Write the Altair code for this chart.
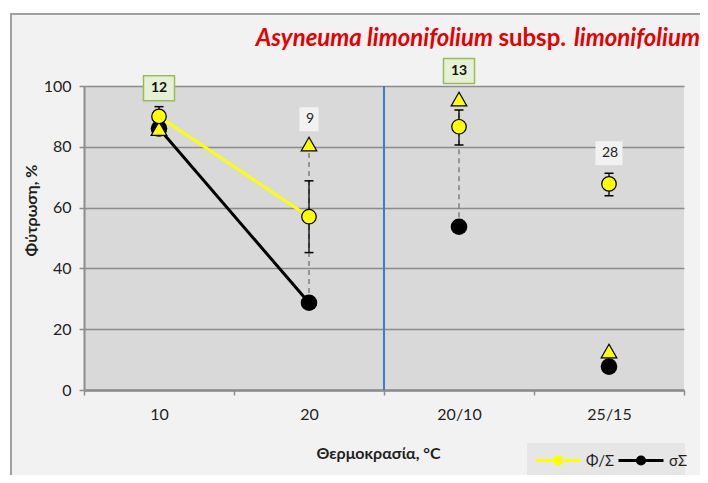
import json
import altair as alt
import pandas as pd

# ---------------- data ----------------
categories = ["10", "20", "20/10", "25/15"]
constant_regime = [True, True, False, False]
phi_mean = [90.0, 57.0, 86.6, 67.8]        # Φ/Σ (yellow circles)
phi_err_lo = [87.0, 45.2, 80.6, 63.9]
phi_err_hi = [93.2, 68.8, 92.1, 71.3]
triangle_vals = [86.0, 80.9, 95.7, 12.8]   # yellow triangles
sigma_vals = [86.0, 28.7, 53.7, 7.7]       # σΣ (black circles)
dash_top = [None, 78.0, 91.0, None]
dash_bottom = [None, 31.0, 56.5, None]
n_labels = [12, 9, 13, 28]
label_y = [99.3, 89.1, 104.9, 77.9]
label_highlight = [True, False, True, False]

series_names = ["Φ/Σ", "σΣ"]
series_colors = ["#ffff00", "#000000"]

FONT = "Lato"
TXT = "#1f1f1f"
GRID = "#8c8c8c"

df = pd.DataFrame({
    "cat": categories,
    "xpos": [i + 0.5 for i in range(len(categories))],
    "constant": constant_regime,
    "phi": phi_mean,
    "lo": phi_err_lo,
    "hi": phi_err_hi,
    "tri": triangle_vals,
    "sigma": sigma_vals,
    "dtop": dash_top,
    "dbot": dash_bottom,
    "n": n_labels,
    "ly": label_y,
    "hl": label_highlight,
})

ncat = len(categories)
cat_js = json.dumps(categories)

x_scale = alt.Scale(domain=[0, ncat], nice=False, zero=False)
y_scale = alt.Scale(domain=[0, 100], nice=False)

x_axis = alt.Axis(
    values=[i * 0.5 for i in range(2 * ncat + 1)],
    labelExpr=f"datum.value % 1 == 0.5 ? {cat_js}[floor(datum.value)] : ''",
    tickOpacity={"condition": {"test": "datum.value % 1 == 0", "value": 1}, "value": 0},
    grid=False,
    labelFlush=False,
    labelOverlap=False,
    tickSize=5,
    tickWidth=1.5,
    tickColor=GRID,
    domainColor=GRID,
    domainWidth=2.5,
    labelPadding=11,
    labelFontSize=16,
    labelFont=FONT,
    labelColor=TXT,
    title="Θερμοκρασία, °C",
    titleFont=FONT,
    titleFontSize=16,
    titleFontWeight="bold",
    titleColor=TXT,
    titleX=294,
    titleY=63,
    titleBaseline="middle",
    titleAlign="center",
)

y_axis = alt.Axis(
    values=[0, 20, 40, 60, 80, 100],
    grid=True,
    gridColor=GRID,
    gridWidth=1.5,
    tickSize=5,
    tickWidth=1.5,
    tickColor=GRID,
    domainColor=GRID,
    domainWidth=2,
    labelPadding=8,
    labelFontSize=16,
    labelFont=FONT,
    labelColor=TXT,
    title="Φύτρωση, %",
    titleFont=FONT,
    titleFontSize=16,
    titleFontWeight="bold",
    titleColor=TXT,
    titleX=-53,
    titleY=124,
    titleAngle=-90,
    titleAlign="center",
    titleBaseline="middle",
)


def X():
    return alt.X("xpos:Q", scale=x_scale, axis=x_axis)


def Y(field):
    return alt.Y(f"{field}:Q", scale=y_scale, axis=y_axis)


base = alt.Chart(df)
one = alt.Chart(pd.DataFrame({"k": [0]}))

# ---------- decorative frame ----------
frame_white_left = one.mark_rect(color="white").encode(
    x=alt.value(-76), x2=alt.value(-74), y=alt.value(-78), y2=alt.value(389))
frame_white_top = one.mark_rect(color="white").encode(
    x=alt.value(-76), x2=alt.value(616), y=alt.value(-78), y2=alt.value(-73))
frame_left = one.mark_rule(color="#a0a0a0", strokeWidth=2).encode(
    x=alt.value(-73), y=alt.value(-73), y2=alt.value(389))
frame_top = one.mark_rule(color="#a0a0a0", strokeWidth=2).encode(
    x=alt.value(-74), x2=alt.value(616), y=alt.value(-72))

legend_box = one.mark_rect(color="#e6e6e6").encode(
    x=alt.value(443), x2=alt.value(601), y=alt.value(357), y2=alt.value(389))

# ---------- divider between constant and alternating regimes ----------
divider = one.mark_rule(color="#3e7cc9", strokeWidth=2).encode(
    x=alt.X(datum=sum(constant_regime), type="quantitative", scale=x_scale, axis=x_axis),
    y=alt.Y(datum=0, type="quantitative", scale=y_scale, axis=y_axis),
    y2=alt.Y2(datum=100),
)

legend_path = ("M-1,0L-0.16,0M0.16,0L1,0"
               "M0.16,0A0.16,0.16,0,1,1,-0.16,0A0.16,0.16,0,1,1,0.16,0Z")


def series_legend(color, lx):
    return alt.Legend(
        title=None, orient="none", legendX=lx, legendY=350.5, padding=0,
        symbolType=legend_path, symbolSize=2025, symbolStrokeWidth=3,
        symbolFillColor=color, labelFont=FONT, labelFontSize=15,
        labelColor=TXT, labelOffset=4,
    )


def series_line(field, i, lx):
    name, color = series_names[i], series_colors[i]
    return base.transform_filter("datum.constant").transform_calculate(
        series=json.dumps(name)
    ).mark_line(strokeWidth=3).encode(
        x=X(), y=Y(field),
        color=alt.Color("series:N",
                        scale=alt.Scale(domain=[name], range=[color]),
                        legend=series_legend(color, lx)),
    )


line_phi = series_line("phi", 0, 450)
line_sigma = series_line("sigma", 1, 533)

dashed = base.transform_filter("isValid(datum.dtop)").mark_rule(
    color="#7f7f7f", strokeWidth=1.5, strokeDash=[5, 4]).encode(
    x=X(), y=Y("dtop"), y2="dbot:Q")

err = base.mark_rule(color="black", strokeWidth=1.3).encode(
    x=X(), y=Y("lo"), y2="hi:Q")
cap_hi = base.mark_rule(color="black", strokeWidth=1.5, xOffset=-4.5, x2Offset=4.5).encode(
    x=X(), x2="xpos:Q", y=Y("hi"))
cap_lo = base.mark_rule(color="black", strokeWidth=1.5, xOffset=-4.5, x2Offset=4.5).encode(
    x=X(), x2="xpos:Q", y=Y("lo"))

sigma_pts = base.mark_point(shape="circle", filled=True, color="black", size=275, opacity=1).encode(
    x=X(), y=Y("sigma"))
tri_pts = base.mark_point(shape="triangle-up", filled=True, fill="#ffff00", stroke="black",
                          strokeWidth=1.2, size=245, opacity=1).encode(x=X(), y=Y("tri"))
phi_pts = base.mark_point(shape="circle", filled=True, fill="#ffff00", stroke="black",
                          strokeWidth=1.2, size=210, opacity=1).encode(x=X(), y=Y("phi"))

box_hl = base.transform_filter("datum.hl").mark_rect(
    width=31, height=25, fill="#e6f0d6", stroke="#9bbb59", strokeWidth=1.5).encode(
    x=X(), y=Y("ly"))
box_plain1 = base.transform_filter("!datum.hl && datum.n < 10").mark_rect(
    width=19, height=24, fill="#f2f2f2").encode(x=X(), y=Y("ly"))
box_plain2 = base.transform_filter("!datum.hl && datum.n >= 10").mark_rect(
    width=27, height=24, fill="#f2f2f2").encode(x=X(), y=Y("ly"))
text_hl = base.transform_filter("datum.hl").mark_text(
    font=FONT, fontSize=14, fontWeight="bold", color="#111111", baseline="middle").encode(
    x=X(), y=Y("ly"), text="n:Q")
text_plain = base.transform_filter("!datum.hl").mark_text(
    font=FONT, fontSize=14, color="#222222", baseline="middle", dx=1).encode(
    x=X(), y=Y("ly"), text="n:Q")

RED = "#e60000"
TS = 24
t1 = one.mark_text(text="Asyneuma limonifolium", font=FONT, fontSize=TS, fontWeight="bold",
                   fontStyle="italic", color=RED, align="right", baseline="alphabetic").encode(
    x=alt.value(409), y=alt.value(-40))
t2 = one.mark_text(text="subsp.", font=FONT, fontSize=TS, fontWeight="bold",
                   color=RED, align="right", baseline="alphabetic").encode(
    x=alt.value(482), y=alt.value(-40))
t3 = one.mark_text(text="limonifolium", font=FONT, fontSize=TS, fontWeight="bold",
                   fontStyle="italic", color=RED, align="right", baseline="alphabetic").encode(
    x=alt.value(616), y=alt.value(-40))

chart = alt.layer(
    frame_white_left, frame_white_top, frame_left, frame_top, legend_box,
    divider, line_phi, line_sigma, dashed, err, cap_hi, cap_lo,
    sigma_pts, tri_pts, phi_pts,
    box_hl, box_plain1, box_plain2, text_hl, text_plain,
    t1, t2, t3,
).resolve_scale(color="independent").properties(
    width=600, height=304,
    autosize=alt.AutoSizeParams(type="none"),
    padding={"left": 76, "top": 78, "right": 16, "bottom": 85},
    background="#f2f2f2",
).configure_view(fill="#d9d9d9", strokeWidth=0)

chart.save("out.html", embed_options={"renderer": "svg", "actions": False})
